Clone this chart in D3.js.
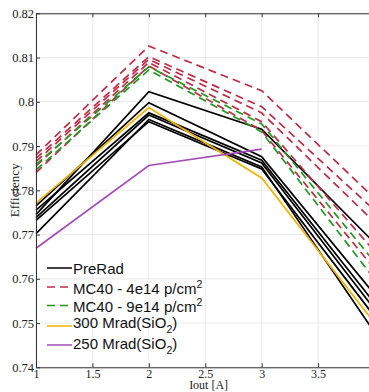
<!DOCTYPE html>
<html>
<head>
<meta charset="utf-8">
<script src="https://cdn.jsdelivr.net/npm/d3@7"></script>
<style>
  body { margin: 0; background: #fff; }
  svg { display: block; }
</style>
</head>
<body>
<div id="chart"></div>
<script>
// measured currents
const iout = [1, 2, 3, 4];

// efficiency curves, one array per board
const preRad = [
    [0.7745, 0.8023, 0.7938, 0.7681],
    [0.7765, 0.7998, 0.7876, 0.7565],
    [0.7755, 0.7975, 0.7868, 0.7545],
    [0.7738, 0.7970, 0.7862, 0.7531],
    [0.7702, 0.7960, 0.7853, 0.7479],
    [0.7732, 0.7955, 0.7848, 0.7515]
];
const mc40_4e14 = [
    [0.7880, 0.8126, 0.8025, 0.7782],
    [0.7872, 0.8102, 0.7989, 0.7755],
    [0.7865, 0.8096, 0.7975, 0.7728],
    [0.7855, 0.8089, 0.7955, 0.7662],
    [0.7840, 0.8081, 0.7935, 0.7622]
];
const mc40_9e14 = [
    [0.7858, 0.8079, 0.7950, 0.7638],
    [0.7846, 0.8072, 0.7932, 0.7599]
];
const mrad300 = [
    [0.7771, 0.7987, 0.7828, 0.7500]
];
const mrad250 = [
    [0.7669, 0.7856, 0.7893]
];

const xTicks = [1, 1.5, 2, 2.5, 3, 3.5, 4];
const xTickLabels = [1, 1.5, 2, 2.5, 3, 3.5];
const yTicks = [0.74, 0.75, 0.76, 0.77, 0.78, 0.79, 0.8, 0.81, 0.82];

const W = 369, H = 392;
const mLeft = 36, mTop = 13.3, mBottom = 367.3, mRight = 374.5;

const xScale = d3.scaleLinear().domain([1, 4]).range([mLeft, mRight]);
const yScale = d3.scaleLinear().domain([0.74, 0.82]).range([mBottom, mTop]);

const svg = d3.select("#chart")
    .append("svg")
    .attr("width", W)
    .attr("height", H);

// grid
svg.append("g")
    .selectAll("line")
    .data(xTicks)
    .enter()
    .append("line")
    .attr("x1", d => xScale(d)).attr("x2", d => xScale(d))
    .attr("y1", mTop).attr("y2", mBottom)
    .attr("stroke", "#e4e4e4")
    .attr("stroke-width", 0.8);

svg.append("g")
    .selectAll("line")
    .data(yTicks)
    .enter()
    .append("line")
    .attr("x1", mLeft).attr("x2", mRight)
    .attr("y1", d => yScale(d)).attr("y2", d => yScale(d))
    .attr("stroke", "#e4e4e4")
    .attr("stroke-width", 0.8);

// series
const line = d3.line()
    .x((d, i) => xScale(iout[i]))
    .y(d => yScale(d));

const groups = [
    { data: preRad, color: "#000000", dash: null },
    { data: mc40_4e14, color: "#bd2c48", dash: "8,5" },
    { data: mc40_9e14, color: "#1f9a1f", dash: "8,5" },
    { data: mrad300, color: "#f2b200", dash: null },
    { data: mrad250, color: "#a54cb8", dash: null }
];

groups.forEach(g => {
    svg.append("g")
        .selectAll("path")
        .data(g.data)
        .enter()
        .append("path")
        .attr("d", line)
        .attr("fill", "none")
        .attr("stroke", g.color)
        .attr("stroke-width", 1.7)
        .attr("stroke-dasharray", g.dash);
});

// axes (inward ticks, matlab style)
const tickFont = "'Liberation Serif', 'DejaVu Serif', serif";

svg.append("g")
    .attr("transform", `translate(0, ${mBottom})`)
    .call(d3.axisBottom(xScale).tickValues(xTickLabels).tickSizeInner(-4).tickSizeOuter(0).tickPadding(2)
        .tickFormat(d3.format("")))
    .call(g => g.selectAll("text").style("font-family", tickFont).style("font-size", "12px").attr("fill", "#222"));

svg.append("g")
    .attr("transform", `translate(0, ${mTop})`)
    .call(d3.axisTop(xScale).tickValues(xTicks).tickSizeInner(-4).tickSizeOuter(0).tickFormat(""));

svg.append("g")
    .attr("transform", `translate(${mLeft}, 0)`)
    .call(d3.axisLeft(yScale).tickValues(yTicks).tickSizeInner(-4).tickSizeOuter(0).tickPadding(2)
        .tickFormat(d3.format("")))
    .call(g => g.selectAll("text").style("font-family", tickFont).style("font-size", "12.5px").attr("fill", "#222"));

svg.selectAll(".domain").attr("stroke", "#333");
svg.selectAll(".tick line").attr("stroke", "#333");

// axis labels
svg.append("text")
    .attr("transform", `translate(19, ${(mTop + mBottom) / 2}) rotate(-90)`)
    .attr("text-anchor", "middle")
    .style("font-family", tickFont)
    .style("font-size", "13px")
    .attr("fill", "#222")
    .text("Efficiency");

svg.append("text")
    .attr("x", xScale(2.53))
    .attr("y", 389)
    .attr("text-anchor", "middle")
    .style("font-family", tickFont)
    .style("font-size", "12px")
    .attr("fill", "#222")
    .text("Iout [A]");

// legend
const legendItems = [
    { label: "PreRad", color: "#000000", dash: null, y: 268, ty: 268, sup: null, sub: null },
    { label: "MC40 - 4e14 p/cm", color: "#bd2c48", dash: "8,5", y: 287, ty: 288, sup: "2", sub: null },
    { label: "MC40 - 9e14 p/cm", color: "#1f9a1f", dash: "8,5", y: 305.5, ty: 306.5, sup: "2", sub: null },
    { label: "300 Mrad(SiO", color: "#f2b200", dash: null, y: 326, ty: 322, sup: null, sub: "2" },
    { label: "250 Mrad(SiO", color: "#a54cb8", dash: null, y: 345, ty: 343.5, sup: null, sub: "2" }
];

const legend = svg.append("g");

legend.selectAll("line")
    .data(legendItems)
    .enter()
    .append("line")
    .attr("x1", 47).attr("x2", 72)
    .attr("y1", d => d.y).attr("y2", d => d.y)
    .attr("stroke", d => d.color)
    .attr("stroke-width", 1.5)
    .attr("stroke-dasharray", d => d.dash);

const labels = legend.selectAll("text")
    .data(legendItems)
    .enter()
    .append("text")
    .attr("x", 73)
    .attr("y", d => d.ty + 5.5)
    .style("font-family", "'Liberation Sans', Arial, sans-serif")
    .style("font-size", "15px")
    .attr("fill", "#111");

labels.append("tspan").text(d => d.label);
labels.filter(d => d.sup)
    .append("tspan")
    .attr("dy", -6)
    .style("font-size", "10.5px")
    .text(d => d.sup);
labels.filter(d => d.sub)
    .append("tspan")
    .attr("dy", 5)
    .style("font-size", "10.5px")
    .text(d => d.sub);
labels.filter(d => d.sub)
    .append("tspan")
    .attr("dy", -5)
    .text(")");
</script>
</body>
</html>
